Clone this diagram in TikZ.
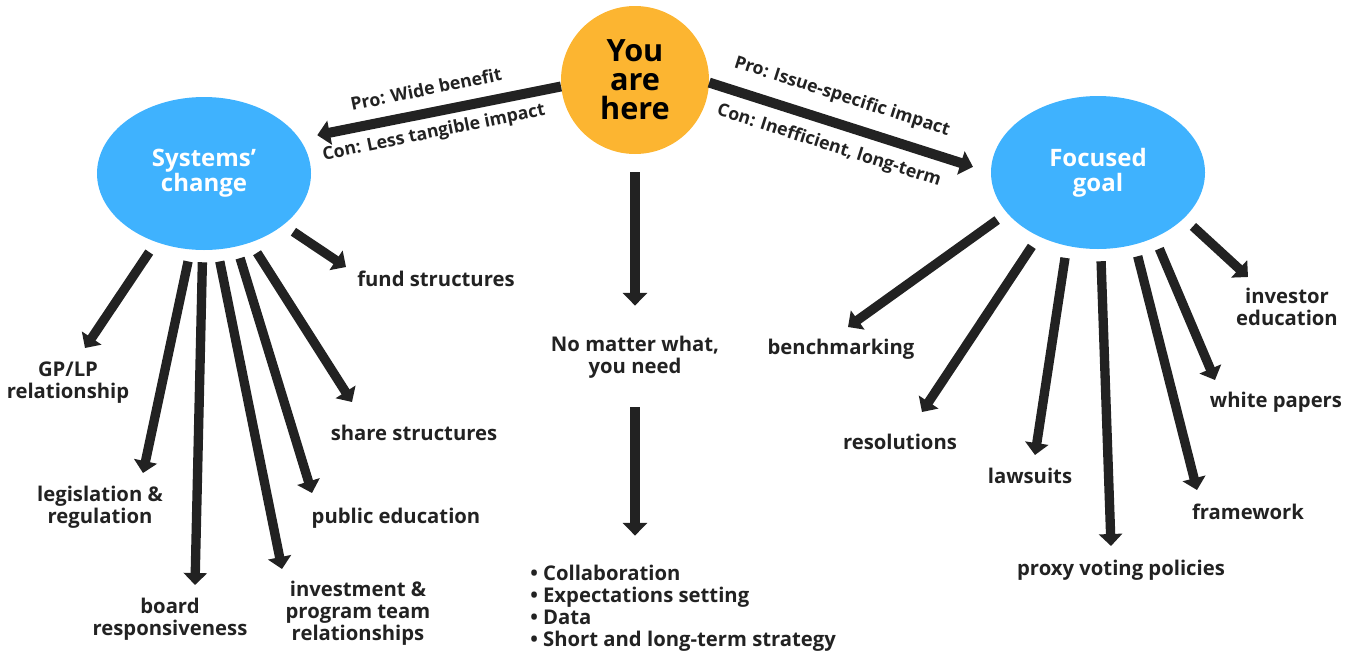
\documentclass[tikz,border=0pt]{standalone}
\usepackage{fontspec}
\setmainfont{Open Sans}
\usetikzlibrary{arrows.meta,shapes.geometric}
\definecolor{bubbleblue}{RGB}{63,178,254}
\definecolor{youorange}{RGB}{252,181,49}
\definecolor{inkgray}{RGB}{34,34,34}

\begin{document}
\begin{tikzpicture}[x=0.75pt,y=-0.75pt,
  leaf/.style={font=\fontsize{15.2}{16.5}\selectfont\bfseries,align=center,inner sep=0pt,text=inkgray},
  note/.style={font=\fontsize{13.3}{15}\selectfont\bfseries,inner sep=0pt,text=inkgray},
  bubble/.style={ellipse,fill=bubbleblue,text=white,align=center,inner sep=0pt,
    font=\fontsize{18}{18.75}\selectfont\bfseries,minimum width=160.5pt,minimum height=114.75pt},
  branch/.style={draw=inkgray,line width=7pt,-{Triangle[width=17.25pt,length=9pt]},shorten <=9pt},
  trunk/.style={draw=inkgray,line width=7.5pt,-{Triangle[width=18pt,length=9.5pt]}}]
  \useasboundingbox (0,0) rectangle (1357,654);

  \node[circle,fill=youorange,minimum size=111pt,inner sep=0pt,align=center,
    font=\fontsize{23}{21.75}\selectfont\bfseries] (you) at (635,80) {You\\are\\here};
  \node[bubble] (sys) at (204,173.5) {Systems'\\change};
  \node[bubble] (goal) at (1098,172.5) {Focused\\goal};

  \draw[trunk,shorten >=13.5pt] (you.185) -- (sys.20);
  \draw[trunk,shorten >=14pt] (you.-2) -- (goal.west);
  \node[note,rotate=11.6] (prowide) at (426,89) {Pro: Wide benefit};
  \node[note,rotate=11.6] (conless) at (434,133) {Con: Less tangible impact};
  \node[note,rotate=-17.7] (proissue) at (842,97) {Pro: Issue-specific impact};
  \node[note,rotate=-17.7] (conineff) at (829,146) {Con: Inefficient, long-term};

  \node[leaf] (nomatter) at (635,357) {No matter what,\\you need};
  \node[leaf,align=left,anchor=west] (needs) at (530,608)
    {• Collaboration\\• Expectations setting\\• Data\\• Short and long-term strategy};
  \draw[trunk,shorten <=13.5pt,shorten >=22.5pt] (you) -- (nomatter);
  \draw[trunk,shorten <=21.75pt,shorten >=21.75pt] (nomatter.south) -- (nomatter.south |- needs.north);

  \node[leaf] (fund) at (436,279) {fund structures};
  \node[leaf] (gplp) at (68,383) {GP/LP\\relationship};
  \node[leaf] (share) at (414,433) {share structures};
  \node[leaf] (legis) at (100,507.5) {legislation \&\\regulation};
  \node[leaf] (public) at (396,518) {public education};
  \node[leaf] (board) at (170,619.5) {board\\responsiveness};
  \node[leaf] (invest) at (358,613) {investment \&\\program team\\relationships};

  \coordinate (gplptip) at (85,348);
  \coordinate (legistip) at (143,473);
  \coordinate (boardtip) at (195,585);
  \coordinate (investtip) at (282,569);
  \coordinate (publictip) at (312,493);
  \coordinate (sharetip) at (352,402);
  \coordinate (fundtip) at (346,267);
  \draw[branch] (sys.-125.5) -- (gplptip);
  \draw[branch] (sys.-100.9) -- (legistip);
  \draw[branch] (sys.-91.3) -- (boardtip);
  \draw[branch] (sys.-80.9) -- (investtip);
  \draw[branch] (sys.-66.4) -- (publictip);
  \draw[branch] (sys.-56) -- (sharetip);
  \draw[branch] (sys.-33.6) -- (fundtip);

  \node[leaf] (bench) at (841,349) {benchmarking};
  \node[leaf] (resol) at (900,442) {resolutions};
  \node[leaf] (laws) at (1030,476) {lawsuits};
  \node[leaf] (proxy) at (1121,570) {proxy voting policies};
  \node[leaf] (frame) at (1248,512) {framework};
  \node[leaf] (white) at (1276,402) {white papers};
  \node[leaf] (invedu) at (1287,307) {investor\\education};

  \coordinate (benchtip) at (848,327);
  \coordinate (resoltip) at (922,412);
  \coordinate (lawstip) at (1035,455);
  \coordinate (proxytip) at (1111,546);
  \coordinate (frametip) at (1197,490);
  \coordinate (whitetip) at (1215,380);
  \coordinate (inveductip) at (1248,277);
  \draw[branch] (goal.-156.6) -- (benchtip);
  \draw[branch] (goal.-133.2) -- (resoltip);
  \draw[branch] (goal.-113) -- (lawstip);
  \draw[branch] (goal.-88) -- (proxytip);
  \draw[branch] (goal.-63.9) -- (frametip);
  \draw[branch] (goal.-49.7) -- (whitetip);
  \draw[branch] (goal.-28.8) -- (inveductip);
\end{tikzpicture}
\end{document}
